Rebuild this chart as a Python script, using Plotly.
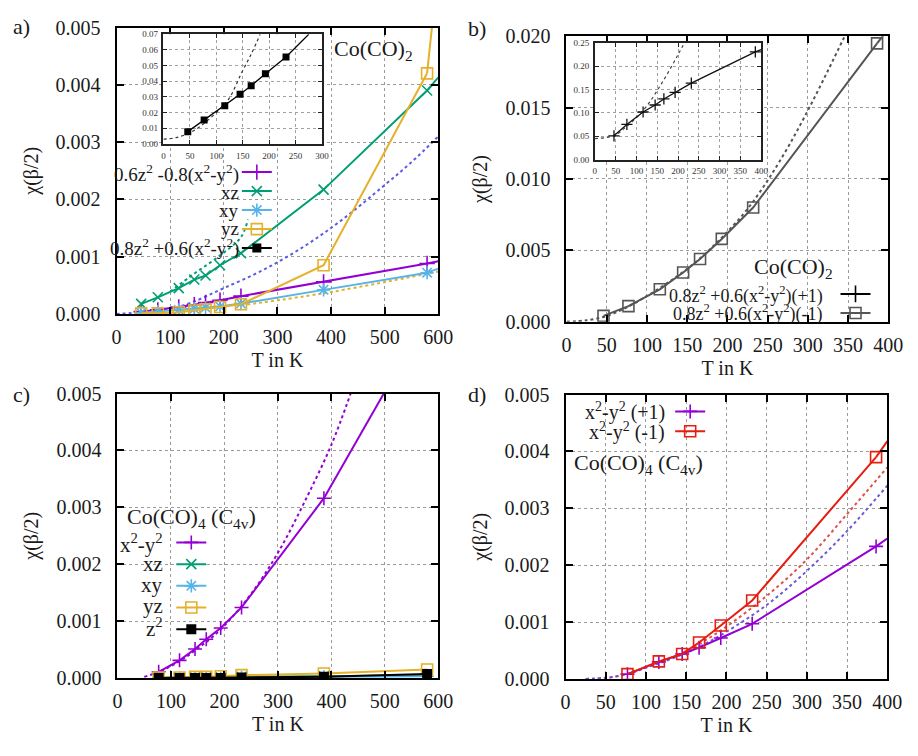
import plotly.graph_objects as go

FONT = "Liberation Serif, Times New Roman, serif"
TXT = "#1a1a1a"
W, H = 918, 756

# ---------------- data ----------------
# a) Co(CO)2
T_a = [46, 77, 116, 145, 166, 193, 232, 386, 579]
a_mix1 = [0.00004, 0.00007, 0.00012, 0.00016, 0.00020, 0.00024, 0.00031, 0.00056, 0.00088]
a_xz = [0.000175, 0.00029, 0.00045, 0.00060, 0.00067, 0.00085, 0.00106, 0.00217, 0.00390]
a_xy = [0.00002, 0.00004, 0.00007, 0.00009, 0.00011, 0.00013, 0.00018, 0.00042, 0.00072]
a_yz = [0.00001, 0.00001, 0.00003, 0.00006, 0.00008, 0.00012, 0.00017, 0.00085, 0.00420]
# points where the solid curves leave the frame
a_mix1_exit = (600, 0.00092)
a_xz_exit = (600, 0.00413)
a_xy_exit = (600, 0.00079)
a_yz_exit = (588, 0.00500)
# dotted curves of panel a
a_dotb_T = [0, 50, 100, 140, 200, 274, 350, 420, 500, 550, 600]
a_dotb_v = [0.0, 0.00003, 0.00009, 0.00020, 0.00045, 0.00077, 0.00118, 0.00164, 0.00225, 0.00265, 0.00310]
a_dotg_T = [100, 146, 190, 232, 245]
a_dotg_v = [0.00039, 0.00071, 0.00100, 0.00134, 0.00165]
a_doty_T = [232, 386, 600]
a_doty_v = [0.00015, 0.00036, 0.00074]
# inset of a: 0.8z^2 +0.6(x^2-y^2)
Ti_a = [46, 77, 116, 145, 166, 193, 232]
a_mix2 = [0.0079, 0.0153, 0.0244, 0.0317, 0.0371, 0.0449, 0.0555]
a_mix2_exit = (275, 0.070)
ia_dot_T = [0, 24, 50, 70, 99, 124, 148, 167, 183]
ia_dot_v = [0.0031, 0.0041, 0.0072, 0.0114, 0.0197, 0.0290, 0.0455, 0.0580, 0.0700]

# b) Co(CO)2, 0.8z^2 +0.6(x^2-y^2), (+1) and (-1)
T_b = [46, 77, 116, 145, 166, 193, 232, 386]
b_m1 = [0.00041, 0.00109, 0.00227, 0.00345, 0.00439, 0.00580, 0.00800, 0.01950]
b_m1_exit = (400, 0.0205)
b_dot_T = [0, 25, 50, 75, 100, 125, 150, 175, 200, 225, 250, 275, 300, 325, 350]
b_dot_v = [0.0, 0.0001, 0.0004, 0.0010, 0.0018, 0.0027, 0.0037, 0.0049, 0.0063, 0.0079,
           0.0099, 0.0122, 0.0148, 0.0176, 0.0205]
b_p1 = [0.051, 0.0754, 0.102, 0.117, 0.130, 0.144, 0.164, 0.231]
b_p1_exit = (400, 0.236)
ib_dot_T = [0, 25, 50, 75, 100, 125, 150, 175, 200, 218]
ib_dot_v = [0.045, 0.047, 0.053, 0.070, 0.090, 0.115, 0.148, 0.185, 0.225, 0.255]

# c) Co(CO)4 (C4v)
T_c = [77, 116, 145, 166, 193, 232, 386, 579]
c_x2y2 = [0.00011, 0.00031, 0.00051, 0.00068, 0.00088, 0.00124, 0.00316]
c_x2y2_exit = (498, 0.0050)
c_xz = [0.00001, 0.00001, 0.00001, 0.00001, 0.00001, 0.00002, 0.00003, 0.00005]
c_xy = [0.0, 0.0, 0.0, 0.0, 0.0, 0.00001, 0.00002, 0.00003]
c_yz = [0.00001, 0.00001, 0.00002, 0.00002, 0.00003, 0.00005, 0.00008, 0.00015]
c_z2 = [0.0, 0.0, 0.0, 0.0, 0.0, 0.00001, 0.00002, 0.00007]
c_dot_T = [50, 75, 100, 125, 150, 175, 200, 250, 300, 350, 400, 436]
c_dot_v = [0.00002, 0.00010, 0.00021, 0.00035, 0.00052, 0.00070, 0.00092, 0.00148, 0.00220,
           0.00310, 0.00410, 0.00500]

# d) Co(CO)4 (C4v), x^2-y^2 (+1) / (-1)
T_d = [77, 116, 145, 166, 193, 232, 386]
d_p1 = [0.000085, 0.00030, 0.00044, 0.00055, 0.00072, 0.00097, 0.00233]
d_m1 = [0.000085, 0.00031, 0.00044, 0.00064, 0.00094, 0.00138, 0.00390]
d_p1_exit = (400, 0.00247)
d_m1_exit = (400, 0.00418)
d_dot_T = [25, 50, 75, 100, 125, 150, 175, 200, 250, 300, 350, 400]
d_dotr_v = [0.0, 0.00002, 0.00008, 0.00020, 0.00033, 0.00049, 0.00069, 0.00092, 0.00146,
            0.00210, 0.00290, 0.00372]
d_dotp_v = [0.0, 0.00002, 0.00008, 0.00020, 0.00032, 0.00046, 0.00063, 0.00083, 0.00130,
            0.00190, 0.00260, 0.00340]

# ---------------- styling ----------------
PURPLE = "#9400D3"
GREEN = "#009E73"
CYAN = "#56B4E9"
YELLOW = "#E5B02A"
BLACK = "#000000"
GREY = "#555555"
RED = "#E51E10"
DOTBLUE = "#5C5CE0"

fig = go.Figure()


def add_series(x, y, ax, color, symbol, size, legend, exit_pt=None, lw=2, mlw=1.6):
    xa, ya = ax
    open_sym = symbol in ("cross-thin", "x-thin", "asterisk", "square-open")
    marker = dict(symbol=symbol, size=size, color=color,
                  line=dict(color=color, width=mlw if open_sym else 0))
    fig.add_trace(go.Scatter(x=x, y=y, xaxis=xa, yaxis=ya, mode="lines+markers",
                             line=dict(color=color, width=lw), marker=marker,
                             name=" ", legend=legend, showlegend=legend is not None))
    if exit_pt is not None:
        fig.add_trace(go.Scatter(x=[x[-1], exit_pt[0]], y=[y[-1], exit_pt[1]],
                                 xaxis=xa, yaxis=ya, mode="lines",
                                 line=dict(color=color, width=lw), showlegend=False))


def add_dotted(x, y, ax, color, lw=2):
    fig.add_trace(go.Scatter(x=x, y=y, xaxis=ax[0], yaxis=ax[1], mode="lines",
                             line=dict(color=color, width=lw, dash="dot", shape="spline"),
                             showlegend=False))


A, B, C, D, IA, IB = ("x", "y"), ("x2", "y2"), ("x3", "y3"), ("x4", "y4"), ("x5", "y5"), ("x6", "y6")

# panel a
add_dotted(a_dotb_T, a_dotb_v, A, DOTBLUE)
add_dotted(a_dotg_T, a_dotg_v, A, GREEN)
add_dotted(a_doty_T, a_doty_v, A, YELLOW)
add_series(T_a, a_mix1, A, PURPLE, "cross-thin", 11, "legend", a_mix1_exit)
add_series(T_a, a_xz, A, GREEN, "x-thin", 10, "legend", a_xz_exit)
add_series(T_a, a_xy, A, CYAN, "asterisk", 11, "legend", a_xy_exit)
add_series(T_a, a_yz, A, YELLOW, "square-open", 11, "legend", a_yz_exit)
add_series(Ti_a, a_mix2, A, BLACK, "square", 9, "legend")
# inset a
add_dotted(ia_dot_T, ia_dot_v, IA, "#333333", lw=1.2)
add_series(Ti_a, a_mix2, IA, BLACK, "square", 7, None, a_mix2_exit, lw=1.3)

# panel b
add_dotted(b_dot_T, b_dot_v, B, GREY)
add_series(T_b, b_p1, B, BLACK, "cross-thin", 12, "legend2")
add_series(T_b, b_m1, B, GREY, "square-open", 11, "legend2", b_m1_exit)
# inset b
add_dotted(ib_dot_T, ib_dot_v, IB, "#444444", lw=1.2)
add_series(T_b, b_p1, IB, "#111111", "cross-thin", 8, None, b_p1_exit, lw=1.3, mlw=1.3)

# panel c
add_dotted(c_dot_T, c_dot_v, C, PURPLE)
add_series(T_c[:7], c_x2y2, C, PURPLE, "cross-thin", 10, "legend3", c_x2y2_exit)
add_series(T_c, c_xz, C, GREEN, "x-thin", 10, "legend3")
add_series(T_c, c_xy, C, CYAN, "asterisk", 11, "legend3")
add_series(T_c, c_yz, C, YELLOW, "square-open", 11, "legend3")
add_series(T_c, c_z2, C, BLACK, "square", 10, "legend3")

# panel d
add_dotted(d_dot_T, d_dotr_v, D, "#E0504A")
add_dotted(d_dot_T, d_dotp_v, D, "#6A5AD8")
add_series(T_d, d_p1, D, PURPLE, "cross-thin", 10, "legend4", d_p1_exit)
add_series(T_d, d_m1, D, RED, "square-open", 11, "legend4", d_m1_exit)

# ---------------- axes ----------------
def px_x(p):
    return p / W


def px_y(p):
    return 1 - p / H


def main_axis(domain, rng, dtick, fmt=None, title=None, standoff=10, is_y=False):
    d = dict(domain=domain, range=rng, dtick=dtick, tick0=0,
             showline=True, linecolor="black", linewidth=2, mirror="ticks",
             ticks="inside", ticklen=7, tickwidth=1.5, tickcolor="black",
             showgrid=True, gridcolor="#9a9a9a", griddash="dot", gridwidth=1,
             zeroline=False, tickfont=dict(family=FONT, size=20, color=TXT),
             ticklabelstandoff=10 if is_y else 4)
    if fmt:
        d["tickformat"] = fmt
    if title:
        d["title"] = dict(text=title, font=dict(family=FONT, size=20, color=TXT), standoff=standoff)
    return d


def inset_axis(domain, rng, dtick, fmt=None):
    d = dict(domain=domain, range=rng, dtick=dtick, tick0=0,
             showline=True, linecolor="#222", linewidth=1.5, mirror="ticks",
             ticks="inside", ticklen=4, tickwidth=1, tickcolor="#222",
             showgrid=True, gridcolor="#a0a0a0", griddash="dot", gridwidth=1,
             zeroline=False, tickfont=dict(family=FONT, size=9, color="#333"),
             ticklabelstandoff=2)
    if fmt:
        d["tickformat"] = fmt
    return d


layout = dict(
    width=W, height=H, margin=dict(l=0, r=0, t=0, b=0),
    paper_bgcolor="white", plot_bgcolor="white",
    font=dict(family=FONT, color=TXT),
    xaxis=dict(main_axis([px_x(114), px_x(443)], [0, 600], 100, title="T in K", standoff=6), anchor="y"),
    yaxis=dict(main_axis([px_y(312), px_y(17)], [0, 0.005], 0.001, ".3f", "χ(β/2)", 12, True), anchor="x"),
    xaxis2=dict(main_axis([px_x(574), px_x(903)], [0, 400], 50, title="T in K", standoff=6), anchor="y2"),
    yaxis2=dict(main_axis([px_y(320), px_y(26)], [0, 0.02], 0.005, ".3f", "χ(β/2)", 12, True), anchor="x2"),
    xaxis3=dict(main_axis([px_x(115), px_x(443)], [0, 600], 100, title="T in K", standoff=6), anchor="y3"),
    yaxis3=dict(main_axis([px_y(687), px_y(394)], [0, 0.005], 0.001, ".3f", "χ(β/2)", 12, True), anchor="x3"),
    xaxis4=dict(main_axis([px_x(573), px_x(902)], [0, 400], 50, title="T in K", standoff=6), anchor="y4"),
    yaxis4=dict(main_axis([px_y(688), px_y(395)], [0, 0.005], 0.001, ".3f", "χ(β/2)", 12, True), anchor="x4"),
    xaxis5=dict(inset_axis([px_x(162), px_x(324)], [0, 300], 50), anchor="y5"),
    yaxis5=dict(inset_axis([px_y(137), px_y(24)], [0, 0.07], 0.01, ".2f"), anchor="x5"),
    xaxis6=dict(inset_axis([px_x(603), px_x(773)], [0, 400], 50), anchor="y6"),
    yaxis6=dict(inset_axis([px_y(153), px_y(33)], [0, 0.25], 0.05, ".2f"), anchor="x6"),
)


def leg(left_px, top_px, fs):
    return dict(x=px_x(left_px), y=px_y(top_px), xanchor="left", yanchor="top",
                bgcolor="rgba(0,0,0,0)", borderwidth=0, font=dict(size=fs, family=FONT),
                itemwidth=30, tracegroupgap=0, itemclick=False, itemdoubleclick=False)


layout["legend"] = leg(237, 151, 10)
layout["legend2"] = leg(849, 276.5, 10)
layout["legend3"] = leg(170, 531, 14.4)
layout["legend4"] = leg(680, 397, 13)

# white backgrounds behind the insets (hide the main panel underneath)
layout["shapes"] = [
    dict(type="rect", xref="x5", yref="y5", x0=0, x1=300, y0=0, y1=0.07,
         fillcolor="white", line=dict(width=0), layer="below"),
    dict(type="rect", xref="x6", yref="y6", x0=0, x1=400, y0=0, y1=0.25,
         fillcolor="white", line=dict(width=0), layer="below"),
]

ann = []


def text(x, y, s, size, anchor="left"):
    ann.append(dict(x=px_x(x), y=px_y(y), xref="paper", yref="paper", text=s, showarrow=False,
                    xanchor=anchor, yanchor="middle", font=dict(family=FONT, size=size, color=TXT)))


# panel labels
text(6, 16, "a)", 22)
text(471, 18, "b)", 22)
text(6, 395, "c)", 22)
text(471, 395, "d)", 22)
# titles inside panels
text(334, 40, "Co(CO)<sub>2</sub>", 22)
text(764, 265, "Co(CO)<sub>2</sub>", 22)
text(123, 522, "Co(CO)<sub>4</sub> (C<sub>4v</sub>)", 22)
text(580, 467, "Co(CO)<sub>4</sub> (C<sub>4v</sub>)", 22)

# legend texts (right aligned, samples drawn by the plotly legends)
rows_a = [167.5 + 19 * i for i in range(5)]
labels_a = ["0.6z<sup>2</sup> -0.8(x<sup>2</sup>-y<sup>2</sup>)", "xz", "xy", "yz",
            "0.8z<sup>2</sup> +0.6(x<sup>2</sup>-y<sup>2</sup>)"]
for r, s in zip(rows_a, labels_a):
    text(241, r, s, 19, "right")
rows_b = [292.5 + 19 * i for i in range(2)]
labels_b = ["0.8z<sup>2</sup> +0.6(x<sup>2</sup>-y<sup>2</sup>)(+1)",
            "0.8z<sup>2</sup> +0.6(x<sup>2</sup>-y<sup>2</sup>)(-1)"]
for r, s in zip(rows_b, labels_b):
    text(838, r, s, 18, "right")
rows_c = [548 + 21.7 * i for i in range(5)]
labels_c = ["x<sup>2</sup>-y<sup>2</sup>", "xz", "xy", "yz", "z<sup>2</sup>"]
for r, s in zip(rows_c, labels_c):
    text(164, r, s, 21, "right")
rows_d = [413 + 19.9 * i for i in range(2)]
labels_d = ["x<sup>2</sup>-y<sup>2</sup> (+1)", "x<sup>2</sup>-y<sup>2</sup> (-1)"]
for r, s in zip(rows_d, labels_d):
    text(677, r, s, 20, "right")

layout["annotations"] = ann
fig.update_layout(**layout)
fig.write_html("out.html")
